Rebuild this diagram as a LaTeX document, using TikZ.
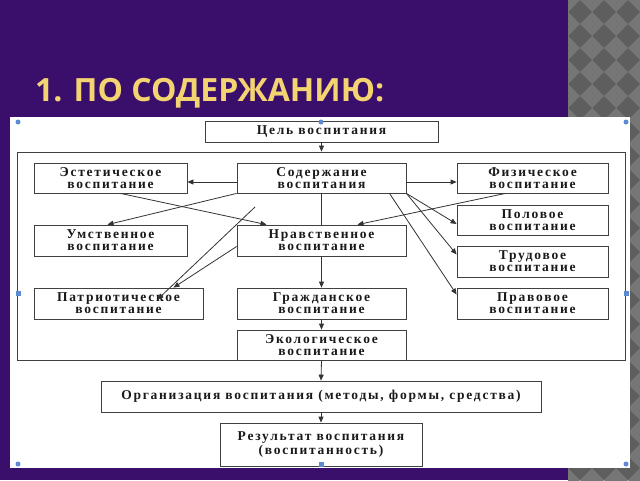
\documentclass[tikz,border=0pt]{standalone}
\usepackage{fontspec}
\usetikzlibrary{arrows.meta, calc}
\newfontfamily\titlefont{Open Sans}
\newfontfamily\boxfont[LetterSpace=13]{Liberation Serif}
\definecolor{fonviolet}{HTML}{3A0F6C}
\definecolor{zagolovok}{HTML}{F4D470}
\definecolor{polosa}{HTML}{5E5E5E}
\definecolor{romb}{HTML}{767676}
\definecolor{marker}{HTML}{5B8BD0}

\begin{document}
\begin{tikzpicture}[x=1pt, y=-1pt,
  blok/.style={draw=black!75, fill=white, line width=0.8pt, align=center, inner sep=0pt,
    text=black!90, font=\boxfont\bfseries\fontsize{13.5pt}{12pt}\selectfont},
  strelka/.style={draw=black!80, line width=0.8pt, -{Triangle[length=6pt,width=5pt]}},
  liniya/.style={draw=black!80, line width=0.8pt}]
  \useasboundingbox (0,0) rectangle (640,480);

  % Slide background
  \fill[fonviolet] (0,0) rectangle (640,480);
  \begin{scope}
    \clip (568,0) rectangle (640,480);
    \fill[polosa] (568,0) rectangle (640,480);
    \foreach \i in {0,...,3}
      \foreach \j in {0,...,20}
        \fill[romb] (568+24*\i,24*\j-12) -- ++(12,12) -- ++(-12,12) -- ++(-12,-12) -- cycle;
  \end{scope}
  \fill[white] (10,117) rectangle (630,468);

  % Title
  \node[anchor=base west, text=zagolovok, inner sep=0pt,
    font=\titlefont\bfseries\fontsize{32pt}{32pt}\selectfont] (zagl) at (35,101) {1. ПО СОДЕРЖАНИЮ:};

  % Outer frame
  \node[draw=black!75, line width=0.8pt, minimum width=608pt, minimum height=208pt, inner sep=0pt] (ramka) at (321,256) {};

  % Boxes
  \node[blok, minimum width=233pt, minimum height=21pt] (cel) at (321.5,131.5) {Цель воспитания};
  \node[blok, minimum width=169pt, minimum height=30pt] (soder) at (321.5,178) {Содержание\\воспитания};
  \node[blok, minimum width=153pt, minimum height=30pt] (estet) at (110.5,178) {Эстетическое\\воспитание};
  \node[blok, minimum width=151pt, minimum height=30pt] (fiz) at (532.5,178) {Физическое\\воспитание};
  \node[blok, minimum width=151pt, minimum height=30pt] (polov) at (532.5,220) {Половое\\воспитание};
  \node[blok, minimum width=153pt, minimum height=31pt] (umstv) at (110.5,240.5) {Умственное\\воспитание};
  \node[blok, minimum width=169pt, minimum height=31pt] (nrav) at (321.5,240.5) {Нравственное\\воспитание};
  \node[blok, minimum width=151pt, minimum height=31pt] (trud) at (532.5,261.5) {Трудовое\\воспитание};
  \node[blok, minimum width=169pt, minimum height=31pt] (patr) at (118.5,303.5) {Патриотическое\\воспитание};
  \node[blok, minimum width=169pt, minimum height=31pt] (grazh) at (321.5,303.5) {Гражданское\\воспитание};
  \node[blok, minimum width=151pt, minimum height=31pt] (prav) at (532.5,303.5) {Правовое\\воспитание};
  \node[blok, minimum width=169pt, minimum height=30pt] (ekol) at (321.5,345) {Экологическое\\воспитание};
  \node[blok, minimum width=440pt, minimum height=31pt] (org) at (321,396.5) {Организация воспитания (методы, формы, средства)};
  \node[blok, minimum width=202pt, minimum height=43pt] (rez) at (321,444.5) {Результат воспитания\\(воспитанность)};

  % Vertical chain
  \draw[strelka] (cel.south) -- (cel.south |- ramka.north);
  \draw[liniya] (soder.south) -- (nrav.north);
  \draw[strelka] (nrav.south) -- (grazh.north);
  \draw[strelka] (grazh.south) -- (ekol.north);
  \draw[strelka] (ekol.south) -- (org.north);
  \draw[strelka] (org.south) -- (rez.north);

  % Side branches
  \draw[strelka] ([yshift=-4pt]soder.west) -- ([yshift=-4pt]estet.east);
  \draw[strelka] ([yshift=-4pt]soder.east) -- ([yshift=-4pt]fiz.west);
  \draw[strelka] ([xshift=10pt]estet.south) -- ([xshift=-55pt]nrav.north);
  \draw[strelka] (soder.south west) -- ([xshift=-3pt]umstv.north);
  \draw[strelka] ([xshift=-27pt]fiz.south) -- ([xshift=36pt]nrav.north);
  \draw[strelka] (soder.south east) -- ([yshift=-4pt]polov.west);
  \draw[strelka] (soder.south east) -- ([yshift=7pt]trud.west);
  \draw[strelka] ([xshift=68pt]soder.south) -- ([yshift=9pt]prav.west);
  \draw[strelka] ([yshift=-6pt]nrav.west) -- ([xshift=55pt]patr.north);
  \coordinate (svob) at (255,207);
  \draw[strelka] (svob) -- ([xshift=39pt,yshift=4pt]patr.center);

  % Selection handles
  \foreach \p in {(18,122),(321,122),(626,122),(18,464),(626,464)}
    \fill[marker] \p circle (2.5pt);
  \foreach \p in {(18,293),(626,293),(321,464)}
    \fill[marker] \p ++(-2.5,-2.5) rectangle ++(5,5);
\end{tikzpicture}
\end{document}
